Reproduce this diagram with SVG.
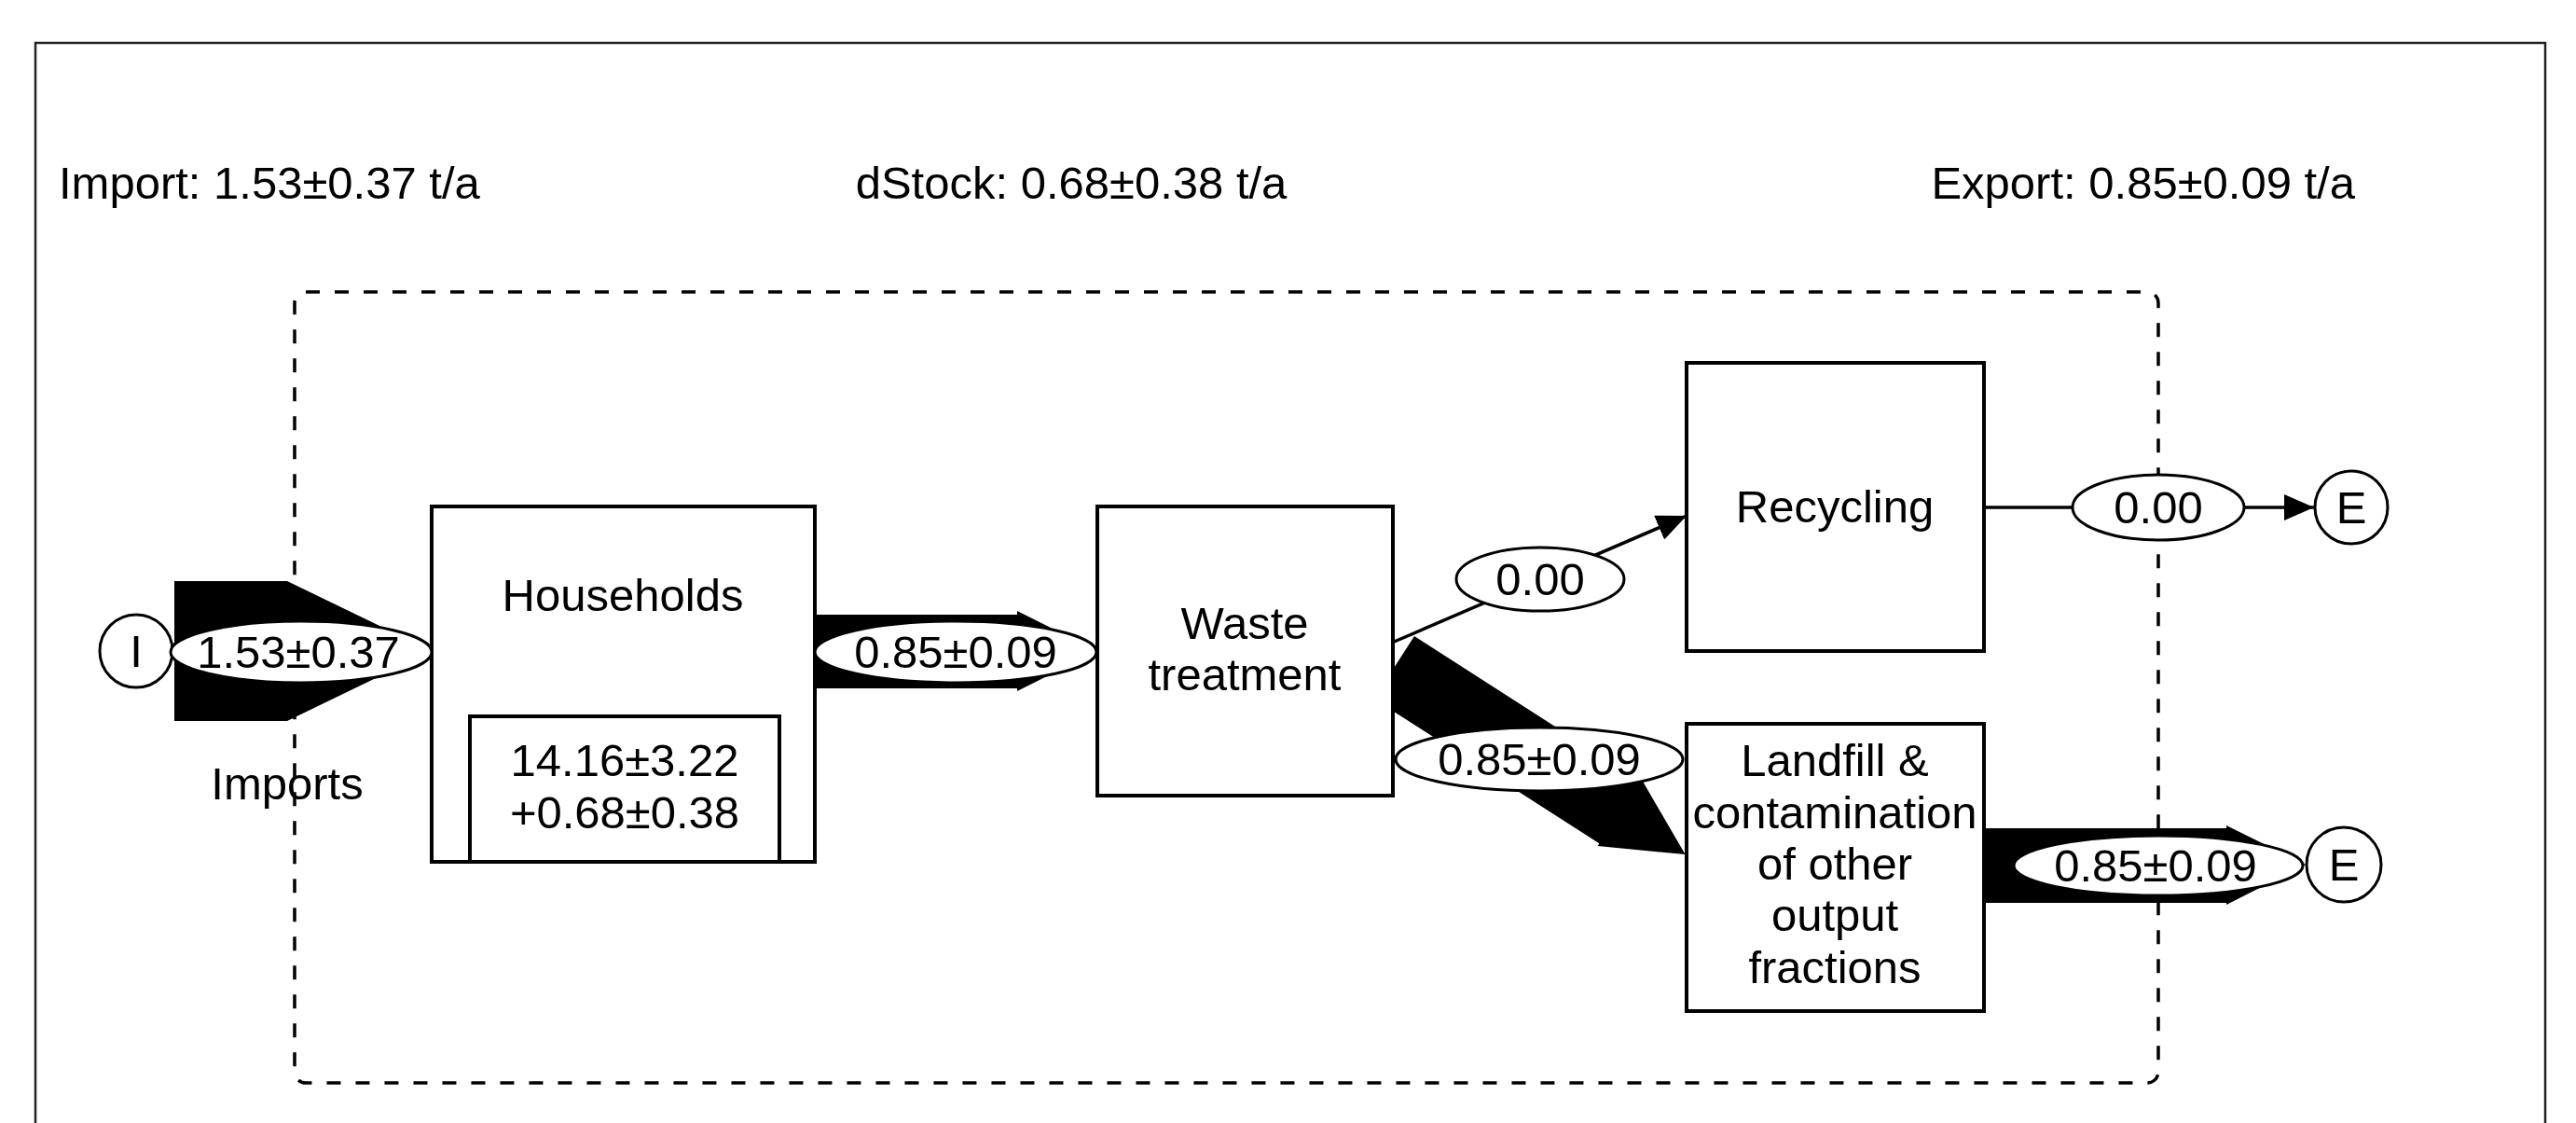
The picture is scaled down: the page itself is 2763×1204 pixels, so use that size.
<svg xmlns="http://www.w3.org/2000/svg" width="2763" height="1204" viewBox="0 0 2763 1204">
<defs>
<style>
text{font-family:"Liberation Sans",Arial,Helvetica,sans-serif;font-size:49px;fill:#000;}
.c{text-anchor:middle;}
.box{fill:#fff;stroke:#000;stroke-width:4;}
.lbl{fill:#fff;stroke:#000;stroke-width:3;}
.flow{fill:#000;stroke:none;}
.thin{fill:none;stroke:#000;stroke-width:3.5;}
</style>
<marker id="ah" markerUnits="userSpaceOnUse" markerWidth="32" markerHeight="28" refX="32" refY="14" orient="auto">
<path d="M0,0 L32,14 L0,28 Z" fill="#000"/>
</marker>
</defs>
<rect width="2763" height="1204" fill="#fff"/>
<rect id="frame" x="38" y="46" width="2692" height="1170" fill="none" stroke="#222" stroke-width="2.5"/>
<g id="header">
<text x="63" y="213">Import: 1.53±0.37 t/a</text>
<text x="1149" y="213" class="c">dStock: 0.68±0.38 t/a</text>
<text x="2526" y="213" text-anchor="end">Export: 0.85±0.09 t/a</text>
</g>
<rect id="system-boundary" x="316" y="313" width="1999" height="848" rx="12" fill="none" stroke="#000" stroke-width="3.5" stroke-dasharray="15 16"/>
<g id="connectors">
<path class="flow" d="M187,623 H308 L463,698 L308,773 H187 Z"/>
<path class="flow" d="M874,659 H1091 V655 L1177,698 L1091,741 V738 H874 Z"/>
<path class="flow" transform="translate(1517,682) rotate(32.7)" d="M0,0 H287 V-3 L371,40 L287,83 V80 H0 Z"/>
<path class="flow" d="M2128,888 H2388 V885 L2473,927 L2388,970 V968 H2128 Z"/>
<line class="thin" x1="1493" y1="689" x2="1809" y2="553" marker-end="url(#ah)"/>
<line class="thin" x1="2128" y1="544" x2="2482" y2="544" marker-end="url(#ah)"/>
</g>
<text x="308" y="857" class="c">Imports</text>
<g id="import-I">
<circle cx="146" cy="698" r="39" class="lbl"/>
<text x="146" y="715" class="c">I</text>
</g>
<g id="households">
<rect x="463" y="543" width="411" height="381" class="box"/>
<text x="668" y="655" class="c">Households</text>
<rect x="504" y="768" width="332" height="156" class="box"/>
<text x="670" y="832" class="c">14.16±3.22</text>
<text x="670" y="888" class="c">+0.68±0.38</text>
</g>
<g id="waste-treatment">
<rect x="1177" y="543" width="317" height="310" class="box"/>
<text x="1335" y="685" class="c">Waste</text>
<text x="1335" y="740" class="c">treatment</text>
</g>
<g id="recycling">
<rect x="1809" y="389" width="319" height="309" class="box"/>
<text x="1968" y="560" class="c">Recycling</text>
</g>
<g id="landfill">
<rect x="1809" y="776" width="319" height="308" class="box"/>
<text x="1968" y="832" class="c">Landfill &amp;</text>
<text x="1968" y="888" class="c">contamination</text>
<text x="1968" y="943" class="c">of other</text>
<text x="1968" y="998" class="c">output</text>
<text x="1968" y="1054" class="c">fractions</text>
</g>
<g id="export-E1">
<circle cx="2522" cy="544" r="39" class="lbl"/>
<text x="2522" y="561" class="c">E</text>
</g>
<g id="export-E2">
<circle cx="2514" cy="927" r="40" class="lbl"/>
<text x="2514" y="944" class="c">E</text>
</g>
<g id="flow-labels">
<ellipse cx="323" cy="699" rx="140" ry="33" class="lbl"/>
<text x="320" y="716" class="c">1.53±0.37</text>
<ellipse cx="1025" cy="699" rx="151" ry="33" class="lbl"/>
<text x="1025" y="716" class="c">0.85±0.09</text>
<ellipse cx="1652" cy="621" rx="90" ry="34" class="lbl"/>
<text x="1652" y="638" class="c">0.00</text>
<ellipse cx="1651" cy="814" rx="154" ry="34" class="lbl"/>
<text x="1651" y="831" class="c">0.85±0.09</text>
<ellipse cx="2315" cy="544" rx="92" ry="35" class="lbl"/>
<text x="2315" y="561" class="c">0.00</text>
<ellipse cx="2315" cy="928" rx="155" ry="32" class="lbl"/>
<text x="2312" y="945" class="c">0.85±0.09</text>
</g>
</svg>
